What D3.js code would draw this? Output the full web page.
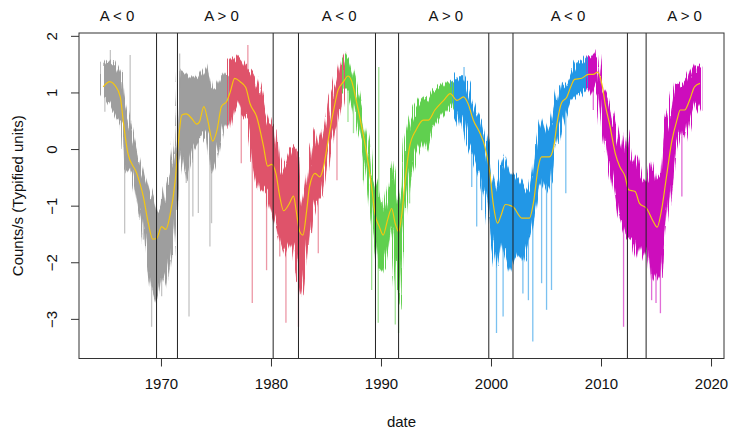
<!DOCTYPE html>
<html>
<head>
<meta charset="utf-8">
<script src="https://cdn.jsdelivr.net/npm/d3@7"></script>
<style>
  body { margin: 0; background: #fff; }
  text { font-family: "Liberation Sans", Arial, sans-serif; fill: #111; }
</style>
</head>
<body>
<div id="chart"></div>
<script>
// cycle bands: [year, low, high] of the daily counts
const cycle20 = [
    [1964.7, 0.92, 1.48], [1965.0, 0.85, 1.55], [1965.4, 0.75, 1.51], [1965.8, 0.63, 1.51],
    [1966.3, 0.45, 1.34], [1966.6, -0.43, 0.86], [1967.2, -0.31, 0.39], [1967.8, -0.84, -0.02],
    [1968.4, -1.37, -0.43], [1968.85, -2.08, -0.67], [1969.15, -2.43, -0.84], [1969.6, -2.67, -1.13],
    [1970.06, -2.19, -1.02], [1970.5, -2.43, -0.6], [1970.97, -1.84, -0.3], [1971.3, -1.1, 0.16],
    [1971.7, -0.02, 1.39], [1972.2, -0.55, 1.34], [1972.9, -0.02, 1.22], [1973.5, 0.16, 1.28],
    [1974.1, 0.34, 1.45], [1974.6, -0.43, 1.04], [1975.1, -0.14, 1.1], [1975.7, 0.39, 1.34],
    [1976.1, 0.51, 1.31]
];
const cycle21 = [
    [1976.1, 0.34, 1.54], [1976.7, 0.86, 1.63], [1977.3, 0.63, 1.57], [1977.9, 0.51, 1.39],
    [1978.5, -0.31, 1.34], [1979.0, -0.72, 1.04], [1979.45, -0.72, 0.69], [1979.9, -1.02, 0.45],
    [1980.3, -1.25, 0.39], [1980.8, -1.61, -0.43], [1981.3, -1.84, -0.25], [1981.9, -1.61, 0.04],
    [1982.5, -2.3, -0.02], [1982.8, -2.6, -1.02], [1983.25, -1.9, -0.6], [1983.7, -1.19, -0.02],
    [1984.15, -0.9, 0.34], [1984.6, -0.84, 0.1], [1985.05, -0.31, 0.45], [1985.5, 0.22, 0.98],
    [1985.97, 0.45, 1.22], [1986.4, 0.81, 1.57], [1986.7, 1.16, 1.66]
];
const cycle22 = [
    [1986.7, 1.04, 1.66], [1987.0, 1.04, 1.6], [1987.5, 0.69, 1.28], [1987.9, 0.28, 0.92],
    [1988.4, -0.02, 0.57], [1988.85, -0.6, 0.16], [1989.15, -1.2, -0.43], [1989.45, -1.6, -0.55],
    [1989.75, -2.08, -0.72], [1990.2, -2.19, -1.13], [1990.65, -1.72, -0.67], [1990.97, -1.37, -0.25],
    [1991.3, -2.19, -0.6], [1991.6, -2.78, -1.02], [1991.9, -1.61, -0.67], [1992.2, -1.02, 0.16],
    [1992.6, -0.43, 0.51], [1993.1, -0.08, 0.75], [1993.7, 0.16, 0.92], [1994.15, -0.02, 0.86],
    [1994.75, 0.39, 1.04], [1995.4, 0.57, 1.1], [1996.0, 0.69, 1.19], [1996.5, 0.81, 1.19]
];
const cycle23 = [
    [1996.5, 0.81, 1.19], [1996.9, 0.45, 1.28], [1997.35, 0.57, 1.28], [1997.8, 0.1, 1.16],
    [1998.25, -0.08, 0.86], [1998.7, -0.31, 0.63], [1999.15, -0.55, 0.51], [1999.6, -0.9, 0.16],
    [2000.05, -1.61, -0.43], [2000.5, -2.08, -0.72], [2000.95, -1.61, -0.19], [2001.1, -1.72, -0.14],
    [2001.7, -2.14, -0.43], [2002.3, -1.84, -0.49], [2002.9, -1.96, -0.67], [2003.4, -1.61, -0.78],
    [2003.8, -1.37, -0.43], [2004.15, -1.02, 0.04], [2004.6, -0.55, 0.51], [2005.05, -0.72, 0.28],
    [2005.5, -0.55, 0.45], [2005.8, -0.02, 0.75], [2006.3, 0.39, 1.16], [2006.7, 0.63, 1.13],
    [2007.2, 0.86, 1.28], [2007.8, 0.92, 1.51], [2008.4, 1.04, 1.57], [2008.9, 1.1, 1.66]
];
const cycle24 = [
    [2008.9, 1.1, 1.66], [2009.3, 0.98, 1.63], [2009.75, 1.16, 1.69], [2010.2, 0.34, 1.04],
    [2010.65, -0.14, 0.92], [2011.1, -0.6, 0.57], [2011.6, -1.14, 0.16], [2012.0, -1.37, -0.08],
    [2012.35, -1.55, 0.34], [2012.8, -1.61, -0.25], [2013.15, -1.96, -0.14], [2013.55, -1.72, -0.49],
    [2013.9, -1.9, -0.6], [2014.25, -1.72, -0.55], [2014.6, -2.31, -0.19], [2015.0, -2.19, -0.55],
    [2015.4, -2.31, -0.49], [2015.8, -1.49, 0.34], [2016.3, -0.72, 0.75], [2016.7, -0.02, 1.16],
    [2017.2, 0.39, 1.1], [2017.6, 0.16, 1.16], [2018.1, 0.63, 1.39], [2018.5, 0.86, 1.51],
    [2019.0, 0.69, 1.45]
];

// single-day spikes outside the band: [year, value]
const spikes20 = [[1964.9, 0.66], [1965.4, 1.75], [1966.7, -1.49], [1967.2, 1.66], [1968.4, -1.6],
    [1969.15, -3.14], [1970.06, -2.6], [1971.7, 1.69], [1972.3, -0.6], [1972.55, -2.96],
    [1972.9, -1.19], [1973.4, -1.13], [1974.45, -1.72], [1974.6, -1.31]];
const spikes21 = [[1977.3, -0.25], [1977.9, 1.84], [1978.3, -2.72], [1979.6, -2.14], [1980.8, -1.9],
    [1981.36, -3.07], [1982.5, -3.14], [1984.3, -1.84], [1986.0, -0.55]];
const spikes22 = [[1987.0, 0.48], [1987.5, 0.28], [1988.4, -0.55], [1989.15, -2.49], [1989.8, 1.45],
    [1989.75, -3.07], [1991.3, -3.1], [1991.6, -3.25], [1992.6, -0.96]];
const spikes23 = [[1997.55, 1.45], [1998.25, -0.67], [1998.7, -1.37], [1999.15, -1.08], [2000.5, -3.25],
    [2001.1, -2.96], [2002.9, -2.55], [2003.4, -2.67], [2003.8, -3.4], [2004.6, -2.37],
    [2005.05, -2.84], [2005.5, -2.49], [2006.8, -0.78]];
const spikes24 = [[2009.3, 0.69], [2012.05, -3.14], [2014.6, -2.67], [2015.0, -2.72], [2015.4, -2.9],
    [2017.35, -0.84]];

// smoothed curve (yellow)
const smoothYears = [1964.75, 1965.36, 1965.8, 1966.3, 1966.6, 1967.0, 1967.8, 1968.4, 1968.85, 1969.25,
    1969.6, 1970.06, 1970.45, 1970.8, 1971.3, 1971.6, 1971.9, 1972.3, 1972.8, 1973.25,
    1973.5, 1973.9, 1974.25, 1974.7, 1975.1, 1975.5, 1976.0, 1976.3, 1976.7, 1977.2,
    1977.7, 1978.1, 1978.7, 1979.3, 1979.7, 1980.06, 1980.45, 1980.8, 1981.15, 1981.65,
    1982.05, 1982.3, 1982.6, 1982.9, 1983.25, 1983.5, 1984.0, 1984.45, 1984.75, 1985.2,
    1985.7, 1986.1, 1986.6, 1987.0, 1987.3, 1987.8, 1988.25, 1988.7, 1989.15, 1989.45,
    1989.85, 1990.2, 1990.6, 1990.97, 1991.3, 1991.6, 1991.9, 1992.2, 1992.6, 1993.2,
    1993.85, 1994.3, 1994.9, 1995.7, 1996.3, 1996.9, 1997.5, 1997.9, 1998.4, 1999.0,
    1999.45, 1999.9, 2000.2, 2000.6, 2000.9, 2001.3, 2002.0, 2002.8, 2003.5, 2003.85,
    2004.3, 2004.6, 2005.3, 2005.7, 2006.0, 2006.4, 2006.9, 2007.25, 2007.6, 2008.25,
    2008.85, 2009.3, 2009.7, 2010.1, 2010.4, 2010.8, 2011.3, 2011.7, 2012.2, 2012.5,
    2013.1, 2013.5, 2014.15, 2014.75, 2015.1, 2015.5, 2015.95, 2016.4, 2016.9, 2017.2,
    2017.6, 2018.1, 2018.5, 2019.0];
const smoothValues = [1.10, 1.19, 1.13, 0.92, 0.45, -0.08, -0.43, -0.84, -1.31, -1.59,
    -1.58, -1.37, -1.42, -1.19, -0.55, 0.16, 0.60, 0.62, 0.54, 0.44,
    0.48, 0.75, 0.51, 0.14, 0.34, 0.75, 0.85, 1.01, 1.25, 1.19,
    1.09, 0.80, 0.57, 0.07, -0.30, -0.27, -0.43, -0.84, -1.09, -0.97,
    -0.83, -1.10, -1.45, -1.52, -1.08, -0.67, -0.43, -0.49, -0.34, 0.16,
    0.69, 1.04, 1.19, 1.29, 1.22, 0.81, 0.39, -0.08, -0.67, -1.14,
    -1.37, -1.52, -1.25, -1.05, -1.32, -1.46, -1.14, -0.55, 0.04, 0.34,
    0.51, 0.51, 0.69, 0.86, 0.98, 0.86, 0.92, 0.81, 0.51, 0.28,
    0.04, -0.43, -0.96, -1.31, -1.18, -0.98, -1.02, -1.22, -1.22, -0.96,
    -0.31, -0.14, -0.14, 0.04, 0.45, 0.81, 0.92, 1.10, 1.23, 1.25,
    1.32, 1.32, 1.36, 1.13, 0.77, 0.42, -0.08, -0.31, -0.49, -0.72,
    -0.75, -0.96, -1.05, -1.28, -1.38, -1.08, -0.49, 0.10, 0.51, 0.69,
    0.69, 0.89, 1.10, 1.16];

// polarity reversal windows and labels
const reversalYears = [1969.6, 1971.5, 1980.2, 1982.5, 1989.5, 1991.6, 1999.8, 2002.0, 2012.4, 2014.1];
const polarityLabels = ["A < 0", "A > 0", "A < 0", "A > 0", "A < 0", "A > 0"];
const polarityYears = [1966.0, 1975.5, 1986.2, 1995.9, 2007.0, 2017.6];

const cycleColors = ["#9e9e9e", "#df536b", "#61d04f", "#2297e6", "#cd0bbc"];
const xTicks = [1970, 1980, 1990, 2000, 2010, 2020];
const yTicks = [-3, -2, -1, 0, 1, 2];

function drawChart() {
    const width = 730, height = 429;
    const margin = { top: 33, right: 6, bottom: 70.5, left: 79 };

    const x = d3.scaleLinear()
        .domain([1962.55, 2021.18])
        .range([margin.left, width - margin.right]);
    const y = d3.scaleLinear()
        .domain([-3.70, 2.05])
        .range([height - margin.bottom, margin.top]);

    const svg = d3.select("#chart")
        .append("svg")
        .attr("width", width)
        .attr("height", height);

    // ragged edge look for the daily band (render effect only)
    const filt = svg.append("defs").append("filter")
        .attr("id", "ragged")
        .attr("x", "-2%").attr("y", "-10%")
        .attr("width", "104%").attr("height", "120%");
    filt.append("feTurbulence")
        .attr("type", "fractalNoise")
        .attr("baseFrequency", "0.9 0.004")
        .attr("numOctaves", 2)
        .attr("seed", 3)
        .attr("result", "noise");
    filt.append("feDisplacementMap")
        .attr("in", "SourceGraphic")
        .attr("in2", "noise")
        .attr("scale", 14)
        .attr("xChannelSelector", "A")
        .attr("yChannelSelector", "R");

    const plot = svg.append("g");

    const bands = [cycle20, cycle21, cycle22, cycle23, cycle24];
    const spikes = [spikes20, spikes21, spikes22, spikes23, spikes24];

    const area = d3.area()
        .x(d => x(d[0]))
        .y0(d => y(d[1]))
        .y1(d => y(d[2]));

    bands.forEach((band, i) => {
        const col = cycleColors[i];
        const bis = d3.bisector(d => d[0]).center;
        plot.selectAll(null)
            .data(spikes[i])
            .join("line")
            .attr("x1", d => x(d[0]))
            .attr("x2", d => x(d[0]))
            .attr("y1", d => {
                const b = band[bis(band, d[0])];
                return y((b[1] + b[2]) / 2);
            })
            .attr("y2", d => y(d[1]))
            .attr("stroke", col)
            .attr("stroke-opacity", 0.6)
            .attr("stroke-width", 1.3);

        plot.append("path")
            .datum(band)
            .attr("d", area)
            .attr("fill", col)
            .attr("stroke", col)
            .attr("stroke-opacity", 0.5)
            .attr("stroke-width", 1.2)
            .attr("filter", "url(#ragged)");
    });

    // smoothed curve
    const smooth = smoothYears.map((t, i) => [t, smoothValues[i]]);
    plot.append("path")
        .datum(smooth)
        .attr("d", d3.line().x(d => x(d[0])).y(d => y(d[1])).curve(d3.curveMonotoneX))
        .attr("fill", "none")
        .attr("stroke", "#f5c710")
        .attr("stroke-width", 1.2);

    // reversal lines
    plot.selectAll(".rev")
        .data(reversalYears)
        .join("line")
        .attr("x1", d => x(d))
        .attr("x2", d => x(d))
        .attr("y1", y.range()[0])
        .attr("y2", y.range()[1])
        .attr("stroke", "#222")
        .attr("stroke-width", 1);

    // polarity labels above the box
    svg.selectAll(".pol")
        .data(polarityLabels)
        .join("text")
        .attr("x", (d, i) => x(polarityYears[i]))
        .attr("y", 21)
        .attr("text-anchor", "middle")
        .style("font-size", "15px")
        .text(d => d);

    // axes, R style
    const xAxis = svg.append("g")
        .attr("transform", "translate(0," + (height - margin.bottom) + ")")
        .call(d3.axisBottom(x).tickValues(xTicks).tickFormat(d3.format("d")).tickSizeOuter(0).tickSize(8).tickPadding(12));
    xAxis.select(".domain").remove();

    const yAxis = svg.append("g")
        .attr("transform", "translate(" + margin.left + ",0)")
        .call(d3.axisLeft(y).tickValues(yTicks).tickFormat(d3.format("d")).tickSizeOuter(0).tickSize(8));
    yAxis.select(".domain").remove();
    yAxis.selectAll(".tick text")
        .attr("transform", "rotate(-90)")
        .attr("x", 0)
        .attr("y", -22)
        .attr("dy", "0")
        .style("text-anchor", "middle");

    svg.selectAll(".tick text").style("font-size", "15px").style("font-family", "Liberation Sans, Arial, sans-serif").attr("fill", "#111");
    svg.selectAll(".tick line").attr("stroke", "#333");

    // box
    svg.append("rect")
        .attr("x", margin.left)
        .attr("y", margin.top)
        .attr("width", width - margin.left - margin.right)
        .attr("height", height - margin.top - margin.bottom)
        .attr("fill", "none")
        .attr("stroke", "#333")
        .attr("stroke-width", 1);

    // axis titles
    svg.append("text")
        .attr("x", (margin.left + width - margin.right) / 2)
        .attr("y", 427)
        .attr("text-anchor", "middle")
        .style("font-size", "15px")
        .text("date");

    svg.append("text")
        .attr("transform", "translate(23," + (margin.top + (height - margin.top - margin.bottom) / 2) + ") rotate(-90)")
        .attr("text-anchor", "middle")
        .style("font-size", "15px")
        .text("Counts/s (Typified units)");
}

drawChart();
</script>
</body>
</html>
